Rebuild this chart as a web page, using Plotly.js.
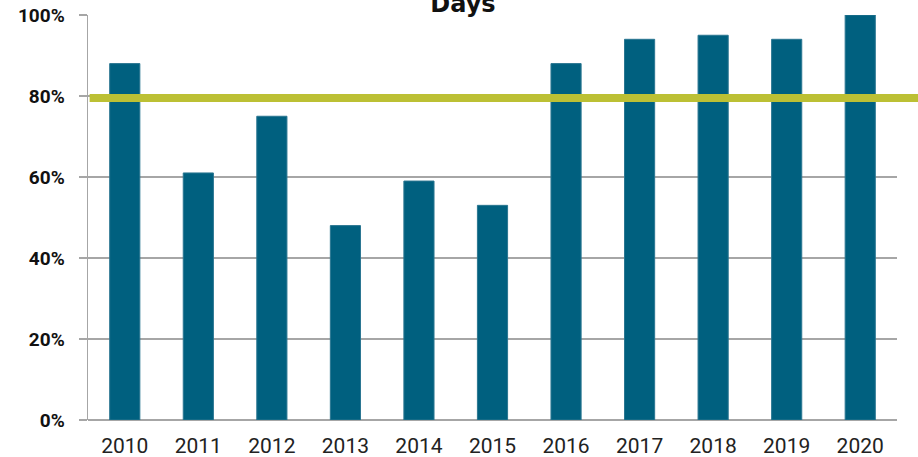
<!DOCTYPE html>
<html>
<head>
<meta charset="utf-8">
<script src="https://cdn.plot.ly/plotly-3.0.1.min.js"></script>
<style>html,body{margin:0;padding:0;background:#fff;}#chart{width:918px;height:457px;}</style>
</head>
<body>
<div id="chart"></div>
<script>
const years = ['2010','2011','2012','2013','2014','2015','2016','2017','2018','2019','2020'];
const percentDays = [88, 61, 75, 48, 59, 53, 88, 94, 95, 94, 100];
const targetPercent = 79.5;
const yTicks = [0, 20, 40, 60, 80, 100];
const yTickLabels = ['0%', '20%', '40%', '60%', '80%', '100%'];
const titleText = 'Days';

const trace = {
  type: 'bar',
  x: years,
  y: percentDays,
  marker: {color: '#00607F', line: {color: '#2A7691', width: 1}},
  hoverinfo: 'x+y'
};

const layout = {
  width: 918, height: 457,
  margin: {l: 88, r: 21, t: 15, b: 37},
  paper_bgcolor: '#fff', plot_bgcolor: '#fff',
  bargap: 0.59,
  showlegend: false,
  title: {
    text: '<b>' + titleText + '</b>',
    font: {family: 'DejaVu Sans, Arial, sans-serif', size: 24, color: '#111'},
    x: 463/918, xanchor: 'center', xref: 'container',
    yref: 'container', y: 1 - 12/457, yanchor: 'bottom'
  },
  xaxis: {
    type: 'category',
    tickfont: {family: 'Roboto, Arial, sans-serif', size: 21, color: '#222'},
    showgrid: false, showline: false, zeroline: false, ticks: '',
    ticklabelstandoff: 11,
    fixedrange: true
  },
  yaxis: {
    range: [0, 100],
    tickvals: yTicks, ticktext: yTickLabels,
    tickfont: {family: 'Roboto, Arial, sans-serif', size: 19, color: '#111', weight: 'bold'},
    showgrid: true, gridcolor: '#A6A6A6', gridwidth: 1.5,
    zeroline: true, zerolinecolor: '#A6A6A6', zerolinewidth: 1.5,
    showline: true, linecolor: '#A6A6A6', linewidth: 1.5,
    ticks: 'outside', ticklen: 8, tickcolor: '#A6A6A6', tickwidth: 1.5,
    ticklabelstandoff: 10,
    fixedrange: true
  },
  shapes: [{
    type: 'line', xref: 'paper', yref: 'y',
    x0: 0.002, x1: 1.03, y0: targetPercent, y1: targetPercent,
    line: {color: '#BCC034', width: 8}, layer: 'above'
  }]
};

Plotly.newPlot('chart', [trace], layout, {displayModeBar: false, staticPlot: true});
</script>
</body>
</html>
